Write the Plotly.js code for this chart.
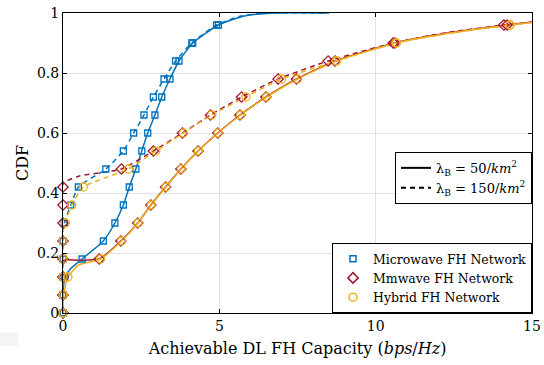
<!DOCTYPE html>
<html><head><meta charset="utf-8">
<script src="https://cdn.plot.ly/plotly-3.0.1.min.js"></script>
<style>html,body{margin:0;padding:0;background:#fff}</style>
</head><body><div id="chart" style="width:544px;height:365px"></div>
<script>
// CDF levels at which markers are drawn
const cdfLevels = [0, 0.06, 0.12, 0.18, 0.24, 0.30, 0.36, 0.42, 0.48, 0.54, 0.60, 0.66, 0.72, 0.78, 0.84, 0.90, 0.96];

// Marker x-values (capacity) at each CDF level
const microSolidX = [0, 0, 0.06, 0.61, 1.29, 1.66, 1.93, 2.12, 2.33, 2.52, 2.71, 2.94, 3.16, 3.42, 3.71, 4.15, 4.97];
const microDashX  = [0, 0, 0, 0, 0, 0.04, 0.25, 0.49, 1.37, 1.93, 2.26, 2.59, 2.89, 3.23, 3.60, 4.12, 4.91];
const mmSolidX    = [0, 0, 0, 1.16, 1.85, 2.39, 2.81, 3.28, 3.77, 4.32, 4.95, 5.66, 6.49, 7.47, 8.70, 10.62, 14.2];
const mmDashX     = [0, 0, 0, 0, 0, 0, 0, 0, 1.87, 2.89, 3.82, 4.72, 5.71, 6.88, 8.48, 10.56, 14.1];
const hySolidX    = [0, 0.02, 0.16, 1.20, 1.87, 2.40, 2.82, 3.29, 3.78, 4.33, 4.96, 5.68, 6.51, 7.50, 8.74, 10.66, 14.3];
const hyDashX     = [0, 0, 0, 0, 0, 0.08, 0.28, 0.65, 2.09, 2.97, 3.85, 4.75, 5.85, 6.99, 8.75, 10.65, 14.3];

// Full curve points (x, y) used for drawing the lines
const microSolidLineX = [0, 0, 0.06, 0.22, 0.61, 1.29, 1.66, 1.93, 2.12, 2.33, 2.52, 2.71, 2.94, 3.16, 3.42, 3.71, 4.15, 4.97, 5.8, 6.8, 8.5];
const microSolidLineY = [0, 0.06, 0.12, 0.145, 0.18, 0.24, 0.30, 0.36, 0.42, 0.48, 0.54, 0.60, 0.66, 0.72, 0.78, 0.84, 0.90, 0.96, 0.99, 1.0, 1.0];
const microDashLineX  = [0, 0, 0.04, 0.25, 0.49, 1.37, 1.93, 2.26, 2.59, 2.89, 3.23, 3.60, 4.12, 4.91, 5.7, 6.6, 8.5];
const microDashLineY  = [0, 0.27, 0.30, 0.36, 0.42, 0.48, 0.54, 0.60, 0.66, 0.72, 0.78, 0.84, 0.90, 0.96, 0.99, 1.0, 1.0];
const mmSolidLineX    = [0, 0, 0.5, 1.16, 1.85, 2.39, 2.81, 3.28, 3.77, 4.32, 4.95, 5.66, 6.49, 7.47, 8.70, 10.62, 12.3, 14.2, 15];
const mmSolidLineY    = [0, 0.175, 0.176, 0.18, 0.24, 0.30, 0.36, 0.42, 0.48, 0.54, 0.60, 0.66, 0.72, 0.78, 0.84, 0.90, 0.933, 0.96, 0.97];
const mmDashLineX     = [0, 0, 0.5, 1.87, 2.89, 3.82, 4.72, 5.71, 6.88, 8.48, 10.56, 12.3, 14.1, 15];
const mmDashLineY     = [0, 0.43, 0.456, 0.48, 0.54, 0.60, 0.66, 0.72, 0.78, 0.84, 0.90, 0.935, 0.96, 0.97];
const hySolidLineX    = [0, 0.02, 0.16, 0.5, 1.20, 1.87, 2.40, 2.82, 3.29, 3.78, 4.33, 4.96, 5.68, 6.51, 7.50, 8.74, 10.66, 12.4, 14.3, 15];
const hySolidLineY    = [0, 0.06, 0.12, 0.16, 0.18, 0.24, 0.30, 0.36, 0.42, 0.48, 0.54, 0.60, 0.66, 0.72, 0.78, 0.84, 0.90, 0.933, 0.96, 0.968];
const hyDashLineX     = [0, 0, 0.08, 0.28, 0.65, 2.09, 2.97, 3.85, 4.75, 5.85, 6.99, 8.75, 10.65, 12.4, 14.3, 15];
const hyDashLineY     = [0, 0.27, 0.30, 0.36, 0.42, 0.48, 0.54, 0.60, 0.66, 0.72, 0.78, 0.84, 0.90, 0.933, 0.96, 0.968];

const xTicks = [0, 5, 10, 15];
const yTicks = [0, 0.2, 0.4, 0.6, 0.8, 1];

const BLUE = '#0072BD', RED = '#A2142F', ORANGE = '#EDB120';
const FONT = 'DejaVu Serif';

function lineTrace(x, y, color, dash) {
  return {x, y, mode: 'lines', type: 'scatter', showlegend: false, hoverinfo: 'skip', cliponaxis: true,
    line: {color, width: 1.5, dash, shape: 'spline', smoothing: 0.5}};
}
function markTrace(x, color, symbol, size) {
  return {x, y: cdfLevels, mode: 'markers', type: 'scatter', showlegend: false, cliponaxis: false,
    marker: {symbol, size, color, line: {color, width: 1.3}}};
}

const traces = [
  lineTrace(microSolidLineX, microSolidLineY, BLUE, 'solid'),
  lineTrace(microDashLineX, microDashLineY, BLUE, '5px,4px'),
  lineTrace(mmSolidLineX, mmSolidLineY, RED, 'solid'),
  lineTrace(mmDashLineX, mmDashLineY, RED, '5px,4px'),
  lineTrace(hySolidLineX, hySolidLineY, ORANGE, 'solid'),
  lineTrace(hyDashLineX, hyDashLineY, ORANGE, '5px,4px'),
  markTrace(microSolidX, BLUE, 'square-open', 6),
  markTrace(microDashX, BLUE, 'square-open', 6),
  markTrace(mmSolidX, RED, 'diamond-open', 8),
  markTrace(mmDashX, RED, 'diamond-open', 8),
  markTrace(hySolidX, ORANGE, 'circle-open', 8),
  markTrace(hyDashX, ORANGE, 'circle-open', 8),
  // legend entries
  {x: [null], y: [null], mode: 'lines', name: 'λ<sub>B</sub> = 50/<i>km</i><sup>2</sup>', legend: 'legend',
   line: {color: '#000', width: 2, dash: 'solid'}},
  {x: [null], y: [null], mode: 'lines', name: 'λ<sub>B</sub> = 150/<i>km</i><sup>2</sup>', legend: 'legend',
   line: {color: '#000', width: 2, dash: '5px,4px'}},
  {x: [null], y: [null], mode: 'markers', name: 'Microwave FH Network', legend: 'legend2',
   marker: {symbol: 'square-open', size: 6, color: BLUE, line: {color: BLUE, width: 1.5}}},
  {x: [null], y: [null], mode: 'markers', name: 'Mmwave FH Network', legend: 'legend2',
   marker: {symbol: 'diamond-open', size: 8, color: RED, line: {color: RED, width: 1.5}}},
  {x: [null], y: [null], mode: 'markers', name: 'Hybrid FH Network', legend: 'legend2',
   marker: {symbol: 'circle-open', size: 8, color: ORANGE, line: {color: ORANGE, width: 1.5}}}
];

const axisCommon = {
  showgrid: true, gridcolor: '#e2e2e2', gridwidth: 1, zeroline: false,
  showline: true, linecolor: '#000', linewidth: 1, mirror: 'ticks',
  ticks: 'inside', ticklen: 4, tickcolor: '#000',
  tickfont: {family: FONT, size: 14, color: '#000'}
};

const layout = {
  width: 544, height: 365,
  margin: {l: 63, r: 12, t: 13, b: 52},
  paper_bgcolor: '#fff', plot_bgcolor: '#fff',
  font: {family: FONT, color: '#000'},
  xaxis: Object.assign({}, axisCommon, {range: [0, 15], tickvals: xTicks, ticktext: xTicks.map(String),
    title: {text: 'Achievable DL FH Capacity (<i>bps</i>/<i>Hz</i>)', font: {family: FONT, size: 16, color: '#000'}, standoff: 10}}),
  yaxis: Object.assign({}, axisCommon, {range: [0, 1], tickvals: yTicks, ticktext: yTicks.map(String),
    title: {text: 'CDF', font: {family: FONT, size: 16, color: '#000'}, standoff: 4}}),
  legend: {x: 1, xanchor: 'right', y: 0.537, yanchor: 'top', bgcolor: '#fff', bordercolor: '#000', borderwidth: 1,
    font: {family: FONT, size: 13, color: '#000'}, itemwidth: 30, tracegroupgap: 0},
  legend2: {x: 1, xanchor: 'right', y: 0, yanchor: 'bottom', bgcolor: '#fff', bordercolor: '#000', borderwidth: 1,
    font: {family: FONT, size: 12.5, color: '#000'}, itemwidth: 30, tracegroupgap: 0},
  shapes: [
    {type: 'rect', xref: 'paper', yref: 'paper', x0: -0.135, x1: -0.095, y0: -0.11, y1: -0.065, fillcolor: '#f4f4f4', line: {width: 0}, layer: 'below'},
    {type: 'rect', xref: 'paper', yref: 'paper', x0: -0.135, x1: -0.088, y0: -0.24, y1: -0.19, fillcolor: '#f4f4f4', line: {width: 0}, layer: 'below'}
  ]
};

Plotly.newPlot('chart', traces, layout, {staticPlot: true, displayModeBar: false});
</script></body></html>
